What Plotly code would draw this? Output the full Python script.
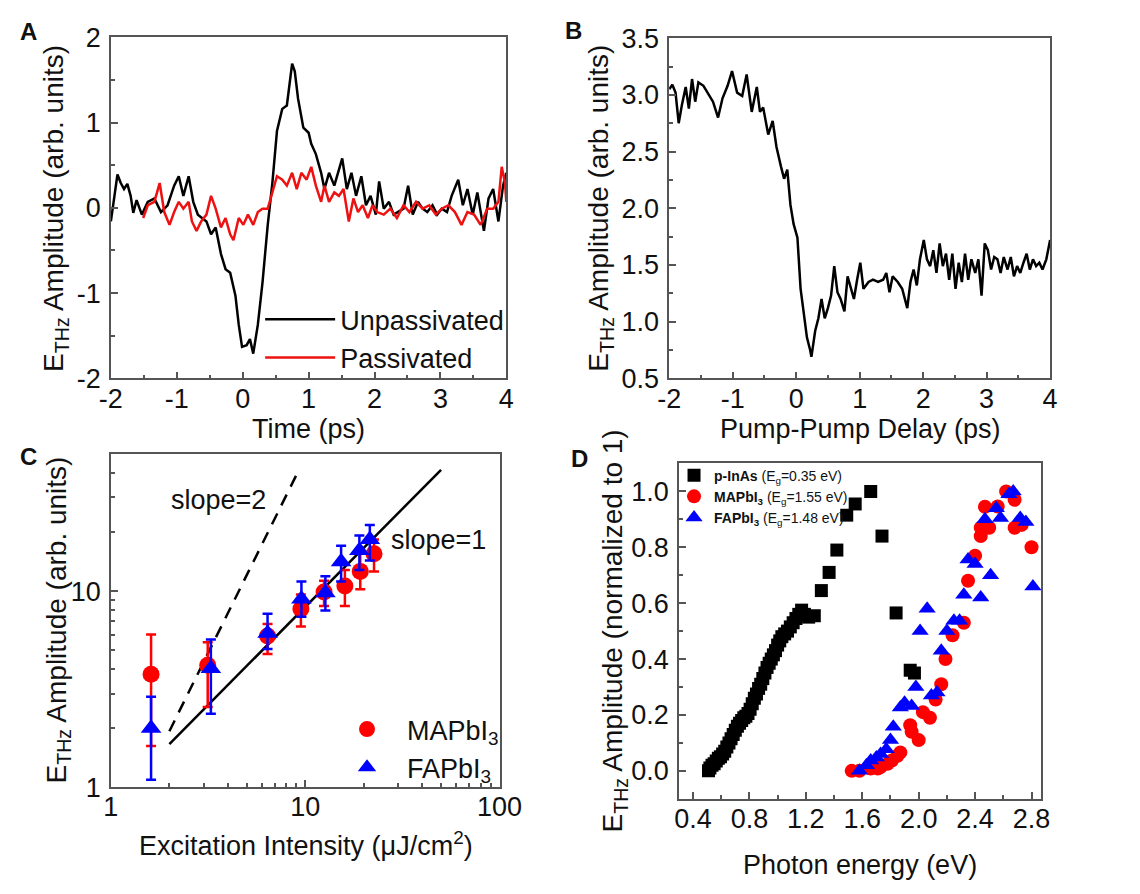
import plotly.graph_objects as go

W, H = 1140, 894
FONT = "Arial, Liberation Sans, sans-serif"

# ---------------- Panel A data ----------------
unpass = [(-2.0,-0.16),(-1.9,0.39),(-1.85,0.29),(-1.8,0.22),(-1.75,0.28),(-1.7,0.14),(-1.66,-0.06),
          (-1.61,0.09),(-1.53,-0.08),(-1.44,0.07),(-1.34,0.11),(-1.24,-0.05),(-1.14,0.03),(-1.04,0.26),
          (-0.97,0.37),(-0.9,0.14),(-0.82,0.37),(-0.75,0.07),(-0.68,-0.08),(-0.55,-0.16),(-0.48,-0.31),
          (-0.41,-0.23),(-0.33,-0.54),(-0.26,-0.72),(-0.19,-0.76),(-0.11,-1.03),(-0.06,-1.37),(-0.01,-1.63),
          (0.06,-1.61),(0.11,-1.54),(0.16,-1.71),(0.23,-1.37),(0.30,-0.88),(0.38,-0.20),(0.45,0.29),
          (0.52,0.90),(0.60,1.16),(0.67,1.20),(0.75,1.69),(0.79,1.60),(0.84,1.28),(0.92,0.94),(1.00,0.88),
          (1.04,0.75),(1.11,0.63),(1.19,0.41),(1.24,0.22),(1.31,0.41),(1.39,0.26),(1.43,0.37),(1.51,0.58),
          (1.58,0.22),(1.65,0.41),(1.72,0.14),(1.80,0.37),(1.87,0.03),(1.94,0.14),(2.02,-0.08),(2.07,0.31),
          (2.14,-0.01),(2.22,0.07),(2.29,-0.08),(2.36,-0.05),(2.44,-0.01),(2.51,0.26),(2.58,-0.08),
          (2.66,0.07),(2.73,-0.01),(2.80,-0.05),(2.88,0.03),(2.95,-0.08),(3.02,-0.01),(3.10,-0.05),
          (3.17,0.14),(3.27,0.33),(3.34,0.03),(3.41,0.22),(3.49,-0.08),(3.56,0.18),(3.66,-0.27),(3.73,0.11),
          (3.80,0.22),(3.88,-0.16),(3.95,0.26),(4.0,0.41)]
passiv = [(-1.51,-0.12),(-1.44,0.03),(-1.34,0.07),(-1.26,0.29),(-1.19,-0.05),(-1.11,-0.20),(-1.04,-0.05),
          (-0.97,0.07),(-0.90,-0.01),(-0.82,0.07),(-0.77,-0.16),(-0.70,-0.27),(-0.63,-0.16),(-0.55,-0.08),
          (-0.48,0.14),(-0.41,-0.01),(-0.33,-0.23),(-0.26,-0.12),(-0.19,-0.31),(-0.14,-0.38),(-0.06,-0.12),
          (0.01,-0.20),(0.08,-0.08),(0.16,-0.20),(0.23,-0.05),(0.30,-0.01),(0.38,-0.01),(0.45,0.18),
          (0.52,0.37),(0.60,0.33),(0.67,0.26),(0.75,0.41),(0.82,0.22),(0.89,0.41),(0.97,0.33),(1.04,0.48),
          (1.11,0.26),(1.19,0.07),(1.24,0.26),(1.31,0.07),(1.39,0.18),(1.46,0.14),(1.53,0.22),(1.61,-0.16),
          (1.68,0.11),(1.75,-0.05),(1.82,0.03),(1.90,-0.12),(1.97,0.03),(2.04,-0.05),(2.14,-0.08),
          (2.24,-0.01),(2.34,-0.12),(2.44,0.03),(2.53,-0.05),(2.63,0.07),(2.73,-0.01),(2.83,0.03),
          (2.93,-0.08),(3.02,-0.01),(3.12,0.03),(3.22,-0.05),(3.32,-0.20),(3.41,-0.05),(3.51,-0.08),
          (3.61,-0.20),(3.71,-0.01),(3.80,-0.01),(3.88,0.07),(3.93,0.48),(3.98,0.29),(4.0,0.07)]

# ---------------- Panel B data ----------------
pumpdelay = [(-2.0,3.05),(-1.95,3.09),(-1.90,3.02),(-1.85,2.75),(-1.80,2.91),(-1.74,3.07),(-1.69,2.88),
             (-1.64,3.14),(-1.59,2.94),(-1.54,3.11),(-1.46,3.08),(-1.39,3.02),(-1.31,2.94),(-1.23,2.80),
             (-1.16,2.97),(-1.08,3.08),(-1.01,3.21),(-0.93,3.02),(-0.85,2.99),(-0.78,3.18),(-0.70,2.85),
             (-0.62,3.07),(-0.57,2.85),(-0.52,2.89),(-0.44,2.65),(-0.37,2.77),(-0.31,2.54),(-0.24,2.37),
             (-0.19,2.26),(-0.14,2.34),(-0.09,2.03),(-0.04,1.86),(0.02,1.74),(0.07,1.29),(0.12,1.06),
             (0.17,0.86),(0.22,0.75),(0.24,0.69),(0.30,0.92),(0.35,1.03),(0.40,1.20),(0.45,1.03),(0.50,1.12),
             (0.55,1.23),(0.60,1.49),(0.65,1.26),(0.70,1.20),(0.76,1.09),(0.81,1.40),(0.86,1.29),(0.91,1.20),
             (0.96,1.37),(1.01,1.52),(1.06,1.29),(1.14,1.35),(1.21,1.37),(1.29,1.35),(1.37,1.37),(1.42,1.43),
             (1.47,1.26),(1.52,1.40),(1.60,1.35),(1.67,1.29),(1.75,1.12),(1.80,1.35),(1.85,1.46),(1.90,1.32),
             (1.95,1.55),(2.01,1.72),(2.06,1.55),(2.11,1.49),(2.16,1.63),(2.21,1.43),(2.26,1.69),(2.31,1.49),
             (2.36,1.60),(2.41,1.37),(2.46,1.60),(2.51,1.29),(2.56,1.52),(2.61,1.35),(2.66,1.60),(2.71,1.37),
             (2.76,1.55),(2.82,1.43),(2.87,1.55),(2.92,1.23),(2.97,1.69),(3.02,1.63),(3.07,1.46),(3.12,1.57),
             (3.17,1.55),(3.22,1.43),(3.27,1.57),(3.33,1.46),(3.38,1.57),(3.43,1.40),(3.48,1.49),(3.53,1.43),
             (3.58,1.52),(3.63,1.60),(3.68,1.46),(3.73,1.55),(3.78,1.49),(3.83,1.52),(3.88,1.46),(3.94,1.55),
             (4.0,1.72)]

# ---------------- Panel C data ----------------
mapi_int = [1.61, 3.15, 6.4, 9.5, 12.5, 16.0, 19.2, 22.6]
mapi_amp = [3.77, 4.19, 5.9, 8.1, 9.9, 10.6, 12.6, 15.5]
mapi_up = [2.23, 1.3, 0.9, 1.5, 1.4, 2.2, 2.9, 2.8]
mapi_dn = [2.15, 1.63, 1.12, 1.5, 1.5, 2.2, 2.4, 2.9]
fapi_int = [1.61, 3.27, 6.4, 9.56, 12.7, 15.3, 19.0, 21.5]
fapi_amp = [2.0, 4.03, 6.1, 9.1, 9.8, 14.1, 16.1, 18.3]
fapi_up = [0.89, 1.63, 1.57, 2.1, 2.1, 2.9, 3.1, 3.4]
fapi_dn = [0.91, 1.66, 1.04, 1.7, 1.84, 2.9, 3.3, 4.0]
slope1_x = [2.0, 50.0]
slope1_y = [1.66, 41.5]
slope2_x = [2.0, 9.0]
slope2_y = [1.93, 39.0]

# ---------------- Panel D data ----------------
inas = [(0.51,0.00),(0.52,0.01),(0.535,0.02),(0.55,0.025),(0.565,0.035),(0.58,0.045),(0.595,0.05),
        (0.61,0.06),(0.625,0.07),(0.64,0.085),(0.655,0.10),(0.67,0.115),(0.685,0.13),(0.70,0.145),
        (0.715,0.16),(0.73,0.17),(0.745,0.18),(0.76,0.19),(0.775,0.195),(0.79,0.205),(0.805,0.22),
        (0.82,0.24),(0.835,0.26),(0.85,0.275),(0.865,0.295),(0.88,0.31),(0.895,0.33),(0.91,0.35),
        (0.925,0.37),(0.94,0.385),(0.955,0.40),(0.97,0.415),(0.985,0.43),(1.00,0.45),(1.015,0.465),
        (1.03,0.48),(1.05,0.49),(1.07,0.50),(1.09,0.515),(1.11,0.53),(1.13,0.545),(1.15,0.56),
        (1.17,0.575),(1.19,0.56),(1.22,0.55),(1.26,0.555),(1.31,0.645),(1.365,0.71),(1.42,0.79),
        (1.49,0.915),(1.55,0.955),(1.66,1.00),(1.74,0.84),(1.84,0.565),(1.94,0.36),(1.97,0.35)]
mapi_d = [(1.525,0.0),(1.58,0.0),(1.66,0.008),(1.71,0.008),(1.73,0.014),(1.78,0.025),(1.81,0.037),
          (1.85,0.054),(1.87,0.066),(1.94,0.163),(1.95,0.14),(2.0,0.11),(2.03,0.21),(2.08,0.19),
          (2.12,0.255),(2.16,0.31),(2.19,0.40),(2.24,0.485),(2.32,0.53),(2.35,0.68),(2.40,0.77),
          (2.44,0.87),(2.44,0.84),(2.47,0.945),(2.50,0.87),(2.56,0.946),(2.62,1.0),(2.68,0.97),
          (2.68,0.87),(2.73,0.88),(2.80,0.80)]
fapi_d = [(1.58,0.0),(1.63,0.02),(1.66,0.037),(1.70,0.048),(1.73,0.06),(1.77,0.077),(1.80,0.11),
          (1.82,0.158),(1.87,0.227),(1.90,0.244),(1.95,0.232),(1.98,0.30),(2.01,0.50),(2.06,0.58),
          (2.09,0.27),(2.13,0.28),(2.16,0.43),(2.20,0.50),(2.25,0.537),(2.29,0.537),(2.32,0.63),
          (2.35,0.756),(2.40,0.74),(2.44,0.62),(2.47,0.90),(2.51,0.70),(2.55,0.94),(2.58,0.905),
          (2.64,0.99),(2.67,1.0),(2.72,0.905),(2.76,0.89),(2.81,0.66)]


def xs(pairs):
    return [p[0] for p in pairs]


def ys(pairs):
    return [p[1] for p in pairs]


def dom_x(l, r):
    return [l / W, r / W]


def dom_y(t, b):
    return [1 - b / H, 1 - t / H]


AX = "#555555"
TICKFONT = dict(family=FONT, size=27, color="#111111")


def xaxis_style(**kw):
    d = dict(showline=True, linecolor=AX, linewidth=1.5, mirror=True, ticks="inside", ticklen=7,
             tickwidth=1.5, tickcolor=AX, showgrid=False, zeroline=False, tickfont=TICKFONT,
             ticklabelstandoff=-5)
    d.update(kw)
    return d


def yaxis_style(**kw):
    d = dict(showline=True, linecolor=AX, linewidth=1.5, mirror=True, ticks="inside", ticklen=7,
             tickwidth=1.5, tickcolor=AX, showgrid=False, zeroline=False, tickfont=TICKFONT,
             ticklabelstandoff=3)
    d.update(kw)
    return d


def minor(step, start):
    return dict(dtick=step, tick0=start, ticks="inside", ticklen=4, tickcolor=AX, tickwidth=1.5)


fig = go.Figure()

# Panel A
fig.add_trace(go.Scatter(x=xs(unpass), y=ys(unpass), mode="lines", name="Unpassivated",
                         line=dict(color="black", width=2.5), xaxis="x", yaxis="y", legend="legend"))
fig.add_trace(go.Scatter(x=xs(passiv), y=ys(passiv), mode="lines", name="Passivated",
                         line=dict(color="#ee1111", width=2.5), xaxis="x", yaxis="y", legend="legend"))

# Panel B
fig.add_trace(go.Scatter(x=xs(pumpdelay), y=ys(pumpdelay), mode="lines", showlegend=False,
                         line=dict(color="black", width=2.5), xaxis="x2", yaxis="y2"))

# Panel C
fig.add_trace(go.Scatter(x=slope2_x, y=slope2_y, mode="lines", showlegend=False,
                         line=dict(color="black", width=2.5, dash="12px,9px"), xaxis="x3", yaxis="y3"))
fig.add_trace(go.Scatter(x=slope1_x, y=slope1_y, mode="lines", showlegend=False,
                         line=dict(color="black", width=2.5), xaxis="x3", yaxis="y3"))
fig.add_trace(go.Scatter(x=mapi_int, y=mapi_amp, mode="markers", name="MAPbI<sub>3</sub>",
                         marker=dict(color="#ff0000", size=17, symbol="circle"),
                         error_y=dict(type="data", symmetric=False, array=mapi_up, arrayminus=mapi_dn,
                                      color="#ff0000", thickness=2.5, width=5),
                         xaxis="x3", yaxis="y3", legend="legend2"))
fig.add_trace(go.Scatter(x=fapi_int, y=fapi_amp, mode="markers", name="FAPbI<sub>3</sub>",
                         marker=dict(color="#0000ff", size=18, symbol="triangle-up"),
                         error_y=dict(type="data", symmetric=False, array=fapi_up, arrayminus=fapi_dn,
                                      color="#0000ff", thickness=2.5, width=5),
                         xaxis="x3", yaxis="y3", legend="legend2"))

# Panel D
fig.add_trace(go.Scatter(x=xs(inas), y=ys(inas), mode="markers",
                         name="<b>p-InAs</b> (E<sub>g</sub>=0.35 eV)",
                         marker=dict(color="black", size=13, symbol="square"),
                         xaxis="x4", yaxis="y4", legend="legend3"))
fig.add_trace(go.Scatter(x=xs(mapi_d), y=ys(mapi_d), mode="markers",
                         name="<b>MAPbI<sub>3</sub></b> (E<sub>g</sub>=1.55 eV)",
                         marker=dict(color="#ff0000", size=14, symbol="circle"),
                         xaxis="x4", yaxis="y4", legend="legend3"))
fig.add_trace(go.Scatter(x=xs(fapi_d), y=ys(fapi_d), mode="markers",
                         name="<b>FAPbI<sub>3</sub></b> (E<sub>g</sub>=1.48 eV)",
                         marker=dict(color="#0000ff", size=15, symbol="triangle-up"),
                         xaxis="x4", yaxis="y4", legend="legend3"))

log_minor = [m * d for d in (1, 10) for m in range(2, 10)]

fig.update_layout(
    width=W, height=H, margin=dict(l=0, r=0, t=0, b=0),
    paper_bgcolor="white", plot_bgcolor="white",
    font=dict(family=FONT, size=27, color="#111111"),
    xaxis=xaxis_style(domain=dom_x(102, 510), anchor="y", range=[-2, 4],
                      tickvals=[-2, -1, 0, 1, 2, 3, 4], ticktext=["-2", "-1", "0", "1", "2", "3", "4"],
                      minor=minor(0.5, 0)),
    yaxis=yaxis_style(domain=dom_y(23, 376), anchor="x", range=[-2, 2],
                      tickvals=[-2, -1, 0, 1, 2], ticktext=["-2", "-1", "0", "1", "2"],
                      minor=minor(0.5, 0)),
    xaxis2=xaxis_style(domain=dom_x(678, 1071), anchor="y2", range=[-2, 4],
                       tickvals=[-2, -1, 0, 1, 2, 3, 4], ticktext=["-2", "-1", "0", "1", "2", "3", "4"],
                       minor=minor(0.5, 0)),
    yaxis2=yaxis_style(domain=dom_y(24, 376), anchor="x2", range=[0.5, 3.5], dtick=0.5, tick0=0.5,
                       tickformat=".1f", minor=minor(0.25, 0.5)),
    xaxis3=xaxis_style(domain=dom_x(102, 503), anchor="y3", type="log", range=[0, 2],
                       tickvals=[1, 10, 100], ticktext=["1", "10", "100"],
                       minor=dict(tickmode="array", tickvals=log_minor, ticks="inside", ticklen=4,
                                  tickcolor=AX, tickwidth=1.5)),
    yaxis3=yaxis_style(domain=dom_y(454, 799), anchor="x3", type="log", range=[0, 1.7],
                       tickvals=[1, 10], ticktext=["1", "10"],
                       minor=dict(tickmode="array", tickvals=log_minor, ticks="inside", ticklen=4,
                                  tickcolor=AX, tickwidth=1.5)),
    xaxis4=xaxis_style(domain=dom_x(688, 1062), anchor="y4", range=[0.3, 2.87], dtick=0.4, tick0=0.4,
                       tickformat=".1f", minor=minor(0.2, 0.4)),
    yaxis4=yaxis_style(domain=dom_y(464, 811), anchor="x4", range=[-0.1, 1.1], dtick=0.2, tick0=0,
                       tickformat=".1f", minor=minor(0.1, 0)),
    legend=dict(x=256 / W, y=1 - 290 / H, xanchor="left", yanchor="top", bgcolor="rgba(0,0,0,0)",
                font=dict(family=FONT, size=27, color="#111111"), itemwidth=70, tracegroupgap=0),
    legend2=dict(x=325 / W, y=1 - 714 / H, xanchor="left", yanchor="top", bgcolor="rgba(0,0,0,0)",
                 font=dict(family=FONT, size=27, color="#111111"), itemwidth=70),
    legend3=dict(x=683 / W, y=1 - 460 / H, xanchor="left", yanchor="top", bgcolor="rgba(0,0,0,0)",
                 font=dict(family=FONT, size=14, color="#111111"), itemwidth=30),
)

ann = [
    # panel letters
    dict(text="<b>A</b>", x=17, y=17, size=24),
    dict(text="<b>B</b>", x=579, y=16, size=24),
    dict(text="<b>C</b>", x=17, y=457, size=24),
    dict(text="<b>D</b>", x=585, y=459, size=24),
    # axis titles
    dict(text="Time (ps)", x=306, y=428, size=27),
    dict(text="Pump-Pump Delay (ps)", x=875, y=428, size=27),
    dict(text="Excitation Intensity (\u03bcJ/cm<sup>2</sup>)", x=303, y=858, size=27),
    dict(text="E<sub>THz</sub> Amplitude (arb. units)", x=45, y=200, size=28, angle=-90),
    dict(text="E<sub>THz</sub> Amplitude (arb. units)", x=607, y=200, size=28, angle=-90),
    dict(text="E<sub>THz</sub> Amplitude (arb. units)", x=48, y=626, size=28, angle=-90),
    dict(text="E<sub>THz</sub> Amplitude (normalized to 1)", x=622, y=637, size=28, angle=-90),
    # slope labels
    dict(text="slope=2", x=213, y=502, size=27),
    dict(text="slope=1", x=440, y=543, size=27),
]
for a in ann:
    fig.add_annotation(text=a["text"], x=a["x"] / W, y=1 - a["y"] / H, xref="paper", yref="paper",
                       showarrow=False, xanchor="center", yanchor="middle", textangle=a.get("angle", 0),
                       font=dict(family=FONT, size=a["size"], color="#111111"))

# bottom title of panel D sits partly below the page edge, as in the source figure
fig.add_annotation(text="Photon energy (eV)", x=875 / W, y=1 - 862 / H, xref="paper", yref="paper",
                   showarrow=False, xanchor="center", yanchor="top",
                   font=dict(family=FONT, size=27, color="#111111"))

fig.write_html("out.html")
